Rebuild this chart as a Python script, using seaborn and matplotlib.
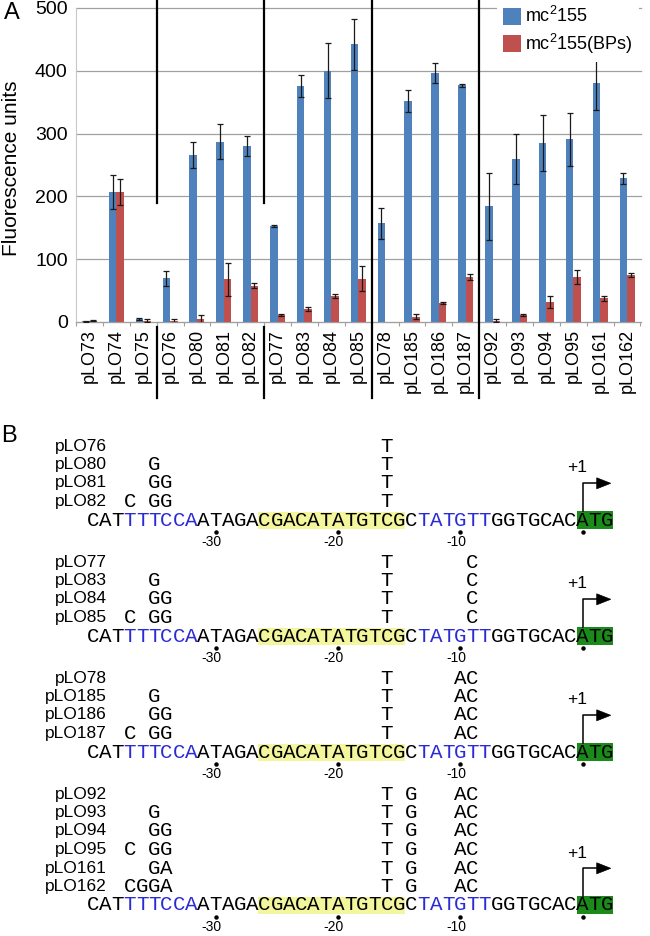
import numpy as np
import pandas as pd
import matplotlib
matplotlib.use("Agg")
import matplotlib.pyplot as plt
import matplotlib.transforms as mtransforms
from matplotlib.lines import Line2D
from matplotlib.patches import Rectangle, Polygon
import seaborn as sns

# ---------------- data (panel A) ----------------
group_1 = ["pLO73", "pLO74", "pLO75"]
group_2 = ["pLO76", "pLO80", "pLO81", "pLO82"]
group_3 = ["pLO77", "pLO83", "pLO84", "pLO85"]
group_4 = ["pLO78", "pLO185", "pLO186", "pLO187"]
group_5 = ["pLO92", "pLO93", "pLO94", "pLO95", "pLO161", "pLO162"]
groups = [group_1, group_2, group_3, group_4, group_5]
constructs = [c for g in groups for c in g]

wt_values = [1, 207, 5, 70, 266, 287, 280, 153, 376, 400, 442,
             157, 352, 396, 377, 184, 260, 285, 291, 380, 229]
wt_errors = [1, 27, 2, 12, 21, 28, 16, 2, 18, 44, 41,
             25, 17, 16, 2, 53, 40, 45, 42, 43, 9]
bps_values = [2, 207, 2, 2, 5, 68, 58, 11, 21, 41, 69,
              0, 8, 30, 72, 2, 11, 32, 72, 38, 75]
bps_errors = [1, 20, 2, 3, 6, 26, 4, 1, 3, 3, 20,
              0, 4, 2, 5, 2, 2, 9, 11, 4, 3]
strains = ["mc$^{2}$155", "mc$^{2}$155(BPs)"]
y_ticks = [0, 100, 200, 300, 400, 500]

# ---------------- data (panel B) ----------------
promoter = "CATTTTCCAATAGACGACATATGTCGCTATGTTGGTGCACATG"
blue_spans = [(3, 9), (27, 33)]
yellow_span = (14, 26)
green_span = (40, 43)
tss_index = 40
position_marks = [-30, -20, -10, 1]
position_labels = ["-30", "-20", "-10", ""]
upstream_start = 3
core_start = 24
core_mutations = ["T", "T      C", "T     AC", "T G   AC"]
group_rows = [
    [("pLO76", ""), ("pLO80", "  G"), ("pLO81", "  GG"), ("pLO82", "C GG")],
    [("pLO77", ""), ("pLO83", "  G"), ("pLO84", "  GG"), ("pLO85", "C GG")],
    [("pLO78", ""), ("pLO185", "  G"), ("pLO186", "  GG"), ("pLO187", "C GG")],
    [("pLO92", ""), ("pLO93", "  G"), ("pLO94", "  GG"), ("pLO95", "C GG"),
     ("pLO161", "  GA"), ("pLO162", "CGGA")],
]

# ---------------- style ----------------
BLUE = "#4f81bd"
RED = "#c0504d"
GRID = "#a0a0a0"
SEQ_BLUE = "#2b2bd6"
YELLOW = "#f3f69c"
GREEN = "#1b8a1b"

plt.rcParams["font.family"] = ["Liberation Sans", "DejaVu Sans"]
plt.rcParams["mathtext.fontset"] = "custom"
plt.rcParams["mathtext.rm"] = "Liberation Sans"
plt.rcParams["mathtext.it"] = "Liberation Sans:italic"
plt.rcParams["mathtext.bf"] = "Liberation Sans:bold"
plt.rcParams["mathtext.default"] = "regular"

W, H = 650, 936
fig = plt.figure(figsize=(W / 100, H / 100), dpi=100)


def fx(px):
    return px / W


def fy(py):
    return 1 - py / H


bg = fig.add_axes([0, 0, 1, 1])
bg.set_xlim(0, W)
bg.set_ylim(H, 0)
bg.axis("off")

ax = fig.add_axes([fx(76), fy(322), fx(640.5) - fx(76), fy(8) - fy(322)])

df = pd.DataFrame({
    "construct": constructs * 2,
    "strain": [strains[0]] * len(constructs) + [strains[1]] * len(constructs),
    "value": wt_values + bps_values,
})
sns.barplot(data=df, x="construct", y="value", hue="strain", order=constructs,
            hue_order=strains, palette=[BLUE, RED], saturation=1, width=0.56,
            gap=0, errorbar=None, linewidth=0, ax=ax, zorder=2)

for cont, errs in zip(ax.containers, [wt_errors, bps_errors]):
    xs, ys, es = [], [], []
    for bar, e in zip(cont, errs):
        if e > 0:
            xs.append(bar.get_x() + bar.get_width() / 2)
            ys.append(bar.get_height())
            es.append(e)
    ax.errorbar(xs, ys, yerr=es, fmt="none", ecolor="#1a1a1a", elinewidth=0.9,
                capsize=2.3, capthick=0.9, zorder=3)

ax.set_xlim(-0.5, len(constructs) - 0.5)
ax.set_ylim(0, 500)
ax.set_yticks(y_ticks)
ax.yaxis.grid(True, color=GRID, lw=0.9)
for gl in ax.get_ygridlines():
    gl.set_clip_on(False)
ax.set_axisbelow(True)
ax.set_xlabel("")
ax.set_ylabel("Fluorescence units", fontsize=15)
ax.yaxis.set_label_coords(-0.098, 0.49)
ax.tick_params(axis="y", length=0, labelsize=14, pad=6)
ax.tick_params(axis="x", which="major", length=0, labelsize=13, pad=5,
               labelrotation=90)
ax.set_xticks(np.arange(-0.5, len(constructs), 1), minor=True)
ax.tick_params(axis="x", which="minor", length=3, color="#a0a0a0", width=0.8)
for s in ["top", "right"]:
    ax.spines[s].set_visible(False)
ax.spines["left"].set_color("#c8c8c8")
ax.spines["bottom"].set_color("#a0a0a0")
ax.patch.set_alpha(0)

# group separators (the first two are broken above the low bars)
trans = mtransforms.blended_transform_factory(ax.transData, fig.transFigure)
edge = 0
for gi, g in enumerate(groups[:-1]):
    edge += len(g)
    if gi < 2:
        segments = [(0, 203), (327, 398)]
    else:
        segments = [(0, 398)]
    for top_px, bot_px in segments:
        ax.add_line(Line2D([edge - 0.5, edge - 0.5], [fy(top_px), fy(bot_px)],
                           transform=trans, color="black", lw=1.6,
                           clip_on=False, zorder=6))

handles, labels = ax.get_legend_handles_labels()
leg = ax.legend(handles, labels, loc="upper left", bbox_to_anchor=(fx(497), 1.0),
                bbox_transform=fig.transFigure, fontsize=13, frameon=True,
                fancybox=False, borderpad=0.35, borderaxespad=0, handlelength=1.0,
                handleheight=1.05, handletextpad=0.2, labelspacing=0.3)
leg.get_frame().set_facecolor("white")
leg.get_frame().set_edgecolor("none")
leg.get_frame().set_alpha(1)
leg.set_zorder(10)

# panel labels
bg.text(12, 13, "A", fontsize=17, ha="center", va="center")
bg.text(9, 436, "B", fontsize=17, ha="center", va="center")

# ---------------- panel B ----------------
CHAR_W = 12.24
SEQ_X0 = 87.0
ROW_H = 18.5
GROUP_GAP = 42.0
FIRST_ROW_Y = 446.0
LABEL_RIGHT = 107.0
MONO = "Liberation Mono"
MONO_SIZE = 15


def cx(i):
    return SEQ_X0 + (i + 0.5) * CHAR_W


def base_color(i):
    for a, b in blue_spans:
        if a <= i < b:
            return SEQ_BLUE
    return "black"


y = FIRST_ROW_Y
for rows, core in zip(group_rows, core_mutations):
    for name, up in rows:
        bg.text(LABEL_RIGHT, y, name, ha="right", va="center", fontsize=12.5)
        for k, ch in enumerate(up):
            if ch != " ":
                bg.text(cx(upstream_start + k), y, ch, ha="center", va="center",
                        family=MONO, fontsize=MONO_SIZE)
        for k, ch in enumerate(core):
            if ch != " ":
                bg.text(cx(core_start + k), y, ch, ha="center", va="center",
                        family=MONO, fontsize=MONO_SIZE)
        y += ROW_H
    sy = y
    bg.add_patch(Rectangle((SEQ_X0 + yellow_span[0] * CHAR_W, sy - 8.5),
                           (yellow_span[1] - yellow_span[0]) * CHAR_W, 17,
                           facecolor=YELLOW, lw=0))
    bg.add_patch(Rectangle((SEQ_X0 + green_span[0] * CHAR_W, sy - 9),
                           (green_span[1] - green_span[0]) * CHAR_W, 18,
                           facecolor=GREEN, lw=0))
    for i, ch in enumerate(promoter):
        bg.text(cx(i), sy, ch, ha="center", va="center", family=MONO,
                fontsize=MONO_SIZE, color=base_color(i))
    for pos, lab in zip(position_marks, position_labels):
        idx = tss_index + pos if pos < 0 else tss_index + pos - 1
        bg.plot([cx(idx)], [sy + 11.5], "o", ms=2.2, color="black")
        if lab:
            bg.text(cx(idx) - 4, sy + 22, lab, ha="center", va="center",
                    fontsize=10)
    ax_x = cx(tss_index)
    top = sy - 36.7
    bg.plot([ax_x, ax_x, ax_x + 14.5], [sy - 9, top, top], color="black", lw=1.1)
    bg.add_patch(Polygon([[ax_x + 14, top - 5.5], [ax_x + 14, top + 5.5],
                          [ax_x + 28, top]], closed=True, facecolor="black",
                         edgecolor="black", lw=0.5))
    bg.text(ax_x - 6, sy - 52, "+1", ha="center", va="center", fontsize=12.5)
    y = sy + GROUP_GAP

fig.savefig("out.png", dpi=100)
